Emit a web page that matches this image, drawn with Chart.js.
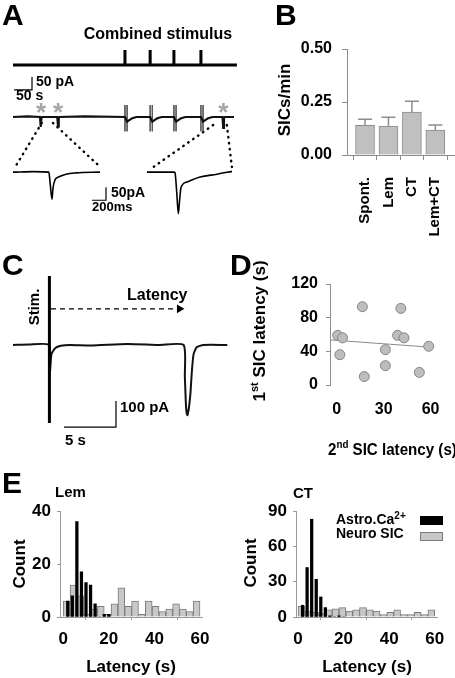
<!DOCTYPE html>
<html>
<head>
<meta charset="utf-8">
<script src="https://cdn.jsdelivr.net/npm/chart.js@4.4.1/dist/chart.umd.min.js"></script>
<style>
    html, body { margin: 0; padding: 0; background: #fff; }
    #fig { position: relative; width: 455px; height: 678px; overflow: hidden; }
    #fig canvas { position: absolute; left: 0; top: 0; }
</style>
</head>
<body>
<div id="fig">
    <canvas id="chartA" width="455" height="678"></canvas>
    <canvas id="chartB" width="455" height="678"></canvas>
    <canvas id="chartC" width="455" height="678"></canvas>
    <canvas id="chartD" width="455" height="678"></canvas>
    <canvas id="chartLem" width="455" height="678"></canvas>
    <canvas id="chartCT" width="455" height="678"></canvas>
</div>
<script>
// ---- Panel A: stimulus train + recording (time in s, current in pA) ----
const stimTimes = [311, 381, 447, 522];
const sicTimes = [78, 125, 584];
const stimTrain = [[0, 0], [311, 0], [311, 1], [311, 0], [381, 0], [381, 1], [381, 0],
    [447, 0], [447, 1], [447, 0], [522, 0], [522, 1], [522, 0], [622, 0]];
const traceA = [[0, 0], [40, 2], [75, 0], [77, -38], [79, -5], [81, 0], [123, 0], [125, -36], [127, -5], [129, 0],
    [200, 2], [311, 0], [317, -18], [323, -12], [331, -5], [343, 0], [381, 0],
    [387, -18], [393, -12], [401, -5], [413, 0], [447, 0],
    [453, -18], [459, -12], [467, -5], [479, 0], [522, 0],
    [528, -18], [534, -12], [542, -5], [554, 0],
    [582, 0], [584, -42], [586, -5], [588, 0], [614, 0]];
// stimulation artifacts: pairs of thin vertical deflections (null = pen up)
const artifactsA = [[311, 46], [311, -55], [313, null], [317, 46], [317, -55], [319, null],
    [381, 46], [381, -55], [383, null], [387, 46], [387, -55], [389, null],
    [447, 46], [447, -55], [449, null], [453, 46], [453, -55], [455, null],
    [522, 46], [522, -55], [524, null], [528, 46], [528, -55]];
// expanded SICs (ms, pA)
const insetLeft = [[0, 0], [300, 2], [512, 0], [530, -40], [557, -104], [572, -60], [600, -30],
    [657, -18], [757, -8], [900, -3], [1243, 0]];
const insetRight = [[1914, 0], [2300, 0], [2315, -3], [2340, -80], [2362, -159], [2380, -110],
    [2400, -60], [2486, -38], [2672, -19], [2915, -8], [3129, 3]];
// dotted zoom guides, in the main trace units
const zoomLinesA = [
    [[80, -23], [6, -192]],
    [[111, -23], [242, -192]],
    [[556, -31], [386, -196]],
    [[594, -31], [608, -192]]
];
const scaleBarA = [[2.8, 104], [52.8, 104], [52.8, 154]];        // 50 s, 50 pA
const scaleBarInset = [[1129, -108], [1329, -108], [1329, -58]];  // 200 ms, 50 pA

// ---- Panel B ----
const categoriesB = ['Spont.', 'Lem', 'CT', 'Lem+CT'];
const sicRate = [0.140, 0.136, 0.202, 0.117];
const sicSem = [0.029, 0.042, 0.052, 0.025];

// ---- Panel C (s, pA) ----
const stimArtifactC = [[3.5, 265], [3.5, -300]];
const traceC = [[0, 0], [1.5, 2], [3.45, 0], [3.56, -100], [3.7, -35], [4.05, -12], [4.6, -3], [5.5, 0],
    [7.5, -2], [11, 4], [14, 0], [16.4, 0], [16.52, -120], [16.64, -240], [16.76, -270], [16.9, -245],
    [17.05, -190], [17.2, -100], [17.36, -35], [17.66, -9], [18.3, 0], [20.6, 0]];
const latencyArrow = [[3.65, 139], [16.0, 139]];
const scaleBarC = [[4.9, -315.7], [9.9, -315.7], [9.9, -215.7]]; // 5 s, 100 pA

// ---- Panel D ----
const secondLatency = [16.4, 0.6, 3.7, 2.0, 41.0, 38.9, 43.0, 31.1, 31.1, 17.6, 58.8, 52.8];
const firstLatency = [93, 59, 56, 36, 91, 59, 56, 42, 23, 10, 46, 15];
const fitLineD = [[-4.3, 53.6], [60, 44.9]];

// ---- Panel E ----
const neuroBins = [1.5, 4.5, 7.5, 10.5, 13.5, 16.5, 19.5, 22.5, 25.5, 28.5,
    31.5, 34.5, 37.5, 40.5, 43.5, 46.5, 49.5, 52.5, 55.5, 58.5];
const astroBins = [2, 4, 6, 8, 10, 12, 14, 16, 18, 20];
const lemNeuro = [6, 12, 8, 1, 3, 4, 1, 5, 11, 4, 6, 1, 6, 4, 2, 3, 5, 3, 2, 6];
const lemAstro = [6, 8, 36, 17, 13, 12, 5, 0, 1, 1];
const ctNeuro = [9, 5, 4, 3, 6, 7, 8, 5, 6, 8, 6, 5, 2, 4, 6, 2, 2, 4, 2, 6];
const ctAstro = [10, 42, 83, 32, 17, 8, 1, 0, 1, 0];

const FONT = '"Liberation Sans", Arial, Helvetica, sans-serif';
Chart.defaults.font.family = FONT;
Chart.defaults.font.weight = 'bold';
Chart.defaults.color = '#000';
Chart.defaults.animation = false;
Chart.defaults.plugins.legend.display = false;
Chart.defaults.plugins.tooltip.enabled = false;

function drawRich(ctx, item) {
    const parts = item.parts || [[item.text, item.size || 16, 0]];
    ctx.save();
    ctx.translate(item.x, item.y);
    if (item.rotate) ctx.rotate(item.rotate * Math.PI / 180);
    if (item.sx) ctx.scale(item.sx, 1);
    ctx.fillStyle = item.color || '#000';
    ctx.textBaseline = item.baseline || 'alphabetic';
    ctx.textAlign = 'left';
    const widths = parts.map(p => {
        ctx.font = 'bold ' + p[1] + 'px ' + FONT;
        return ctx.measureText(p[0]).width;
    });
    const total = widths.reduce((a, b) => a + b, 0);
    let x = item.align === 'center' ? -total / 2 : (item.align === 'right' ? -total : 0);
    parts.forEach((p, i) => {
        ctx.font = 'bold ' + p[1] + 'px ' + FONT;
        ctx.fillText(p[0], x, p[2]);
        x += widths[i];
    });
    ctx.restore();
}

// free text (panel letters, axis titles, scale bar labels)
Chart.register({
    id: 'texts',
    afterDraw(chart, args, opts) {
        (opts.items || []).forEach(it => drawRich(chart.ctx, it));
    }
});

const pts = arr => arr.map(p => ({ x: p[0], y: p[1] }));
function lineSet(arr, xId, yId, extra) {
    return Object.assign({
        data: pts(arr), xAxisID: xId, yAxisID: yId, showLine: true, pointRadius: 0,
        borderColor: '#000', borderWidth: 1.5, fill: false, clip: false, spanGaps: false
    }, extra || {});
}
const hidden = (axis, min, max) => ({ type: 'linear', axis: axis, display: false, min: min, max: max });

// ---------------- A ----------------
const asterisks = {
    id: 'asterisks',
    afterDatasetsDraw(chart) {
        const ctx = chart.ctx;
        ctx.save();
        ctx.fillStyle = '#a6a6a6';
        ctx.font = 'bold 26px ' + FONT;
        ctx.textAlign = 'center';
        ctx.textBaseline = 'alphabetic';
        sicTimes.forEach(t => ctx.fillText('*', chart.scales.t.getPixelForValue(t), 121));
        ctx.restore();
    }
};

new Chart(document.getElementById('chartA'), {
    type: 'scatter',
    data: {
        datasets: [
            lineSet(stimTrain, 't', 'stim', { borderWidth: 3, borderJoinStyle: 'bevel' }),
            lineSet(traceA, 't', 'pA', { borderWidth: 2.2, borderColor: '#111' }),
            lineSet(artifactsA, 't', 'pA', { borderWidth: 0.9, borderColor: '#555' }),
            lineSet(insetLeft, 'ms', 'ins', { borderWidth: 1.6, cubicInterpolationMode: 'monotone' }),
            lineSet(insetRight, 'ms', 'ins', { borderWidth: 1.6, cubicInterpolationMode: 'monotone' }),
            ...zoomLinesA.map(l => lineSet(l, 't', 'pA', { borderWidth: 2.4, borderDash: [0.5, 5.5], borderCapStyle: 'round' })),
            lineSet(scaleBarA, 't', 'pA', { borderWidth: 1.2 }),
            lineSet(scaleBarInset, 'ms', 'ins', { borderWidth: 1.2 })
        ]
    },
    options: {
        responsive: false,
        devicePixelRatio: 1,
        layout: { padding: { left: 13, right: 217, top: 40, bottom: 458 }, autoPadding: false },
        scales: {
            t: hidden('x', 0, 625),
            ms: hidden('x', 0, 3215),
            pA: hidden('y', -396, 296),
            ins: hidden('y', -184, 508),
            stim: hidden('y', -10.333, 1.667)
        },
        plugins: {
            texts: {
                items: [
                    { text: 'A', x: 2, y: 25, size: 30 },
                    { text: 'Combined stimulus', x: 158, y: 39, size: 16, align: 'center' },
                    { text: '50 pA', x: 36, y: 86, size: 14 },
                    { text: '50 s', x: 16, y: 100, size: 14 },
                    { text: '50pA', x: 111, y: 197, size: 14 },
                    { text: '200ms', x: 92, y: 211, size: 13 }
                ]
            }
        }
    },
    plugins: [asterisks]
});

// ---------------- B ----------------
const errorBars = {
    id: 'errorBars',
    afterDatasetsDraw(chart) {
        const { ctx, scales: { x, y } } = chart;
        ctx.save();
        ctx.strokeStyle = '#8c8c8c';
        ctx.lineWidth = 1.5;
        sicRate.forEach((v, i) => {
            const px = x.getPixelForValue(i);
            const base = y.getPixelForValue(v);
            const top = y.getPixelForValue(v + sicSem[i]);
            ctx.beginPath();
            ctx.moveTo(px, base);
            ctx.lineTo(px, top);
            ctx.moveTo(px - 7, top);
            ctx.lineTo(px + 7, top);
            ctx.stroke();
        });
        ctx.restore();
        // rotated category labels, reading bottom-to-top, ending near the axis
        categoriesB.forEach((c, i) => drawRich(ctx, {
            text: c, size: 15, rotate: -90, align: 'right', baseline: 'middle',
            x: x.getPixelForValue(i), y: y.bottom + 22
        }));
    }
};

new Chart(document.getElementById('chartB'), {
    type: 'bar',
    data: {
        datasets: [{
            data: sicRate.map((v, i) => ({ x: i, y: v })),
            backgroundColor: '#c0c0c0',
            borderColor: '#8c8c8c',
            borderWidth: 1,
            barThickness: 19
        }]
    },
    options: {
        responsive: false,
        devicePixelRatio: 1,
        layout: { padding: { left: 250, right: 1, top: 49, bottom: 423 }, autoPadding: false },
        scales: {
            x: {
                type: 'linear', min: -0.768, max: 3.795, offset: false,
                border: { display: true, color: '#8c8c8c' },
                grid: { drawOnChartArea: false, tickLength: 5, color: '#8c8c8c' },
                ticks: { stepSize: 1, includeBounds: false, autoSkip: false, display: false },
                afterFit: s => { s.height = 100; }
            },
            y: {
                min: 0, max: 0.5,
                border: { display: true, color: '#8c8c8c' },
                grid: { drawOnChartArea: false, tickLength: 5, color: '#8c8c8c' },
                ticks: { stepSize: 0.25, padding: 10, font: { size: 16 }, callback: v => v.toFixed(2) },
                afterFit: s => { s.width = 97; }
            }
        },
        plugins: {
            texts: {
                items: [
                    { text: 'B', x: 275, y: 25, size: 30 },
                    { text: 'SICs/min', x: 290, y: 100, size: 17, rotate: -90, align: 'center' }
                ]
            }
        }
    },
    plugins: [errorBars]
});

// ---------------- C ----------------
new Chart(document.getElementById('chartC'), {
    type: 'scatter',
    data: {
        datasets: [
            lineSet(stimArtifactC, 's', 'pA', { borderWidth: 3 }),
            lineSet(traceC, 's', 'pA', { borderWidth: 2, borderColor: '#111', tension: 0.2 }),
            lineSet(latencyArrow, 's', 'pA', {
                borderWidth: 1.3, borderDash: [5, 4],
                pointRadius: [0, 5], pointStyle: 'triangle', rotation: 90,
                pointBackgroundColor: '#000', pointBorderColor: '#000', pointBorderWidth: 0
            }),
            lineSet(scaleBarC, 's', 'pA', { borderWidth: 1.2 })
        ]
    },
    options: {
        responsive: false,
        devicePixelRatio: 1,
        layout: { padding: { left: 13, right: 222, top: 270, bottom: 228 }, autoPadding: false },
        scales: {
            s: hidden('x', 0, 21.15),
            pA: hidden('y', -403.8, 288.5)
        },
        plugins: {
            texts: {
                items: [
                    { text: 'C', x: 2, y: 275, size: 30 },
                    { text: 'Stim.', x: 39, y: 307, size: 15, rotate: -90, align: 'center' },
                    { text: 'Latency', x: 127, y: 300, size: 16 },
                    { text: '100 pA', x: 120, y: 412, size: 15 },
                    { text: '5 s', x: 65, y: 445, size: 15 }
                ]
            }
        }
    }
});

// ---------------- D ----------------
new Chart(document.getElementById('chartD'), {
    type: 'scatter',
    data: {
        datasets: [
            {
                data: secondLatency.map((x, i) => ({ x: x, y: firstLatency[i] })),
                pointRadius: 5, backgroundColor: '#bdbdbd', borderColor: '#858585', borderWidth: 1, clip: false
            },
            lineSet(fitLineD, 'x', 'y', { borderColor: '#8a8a8a', borderWidth: 1 })
        ]
    },
    options: {
        responsive: false,
        devicePixelRatio: 1,
        layout: { padding: { left: 250, right: 16.7, top: 284, bottom: 263 }, autoPadding: false },
        scales: {
            x: {
                type: 'linear', min: -4.3, max: 62,
                border: { display: false },
                grid: { display: false, drawTicks: false },
                ticks: { stepSize: 30, includeBounds: false, padding: 15, font: { size: 16 } },
                afterFit: s => { s.height = 30; }
            },
            y: {
                min: 0, max: 120,
                border: { display: true, color: '#8c8c8c' },
                grid: { drawOnChartArea: false, tickLength: 4, color: '#8c8c8c' },
                ticks: { stepSize: 40, padding: 8, font: { size: 16 } },
                afterFit: s => { s.width = 80; }
            }
        },
        plugins: {
            texts: {
                items: [
                    { text: 'D', x: 230, y: 275, size: 30 },
                    { parts: [['1', 17, 0], ['st', 11, -7], [' SIC latency (s)', 17, 0]], x: 265, y: 331, rotate: -90, align: 'center' },
                    { parts: [['2', 17, 0], ['nd', 11, -7], [' SIC latency (s)', 17, 0]], x: 328, y: 455, sx: 0.89 }
                ]
            }
        }
    }
});

// ---------------- E ----------------
const histLegend = {
    id: 'histLegend',
    afterDraw(chart) {
        const ctx = chart.ctx;
        const ds = chart.data.datasets;
        ctx.save();
        drawRich(ctx, { parts: [['Astro.Ca', 14, 0], ['2+', 10, -5]], x: 336, y: 524 });
        drawRich(ctx, { text: 'Neuro SIC', size: 14, x: 336, y: 538 });
        ctx.fillStyle = ds[0].backgroundColor;
        ctx.fillRect(420, 516, 23, 9);
        ctx.fillStyle = ds[1].backgroundColor;
        ctx.strokeStyle = ds[1].borderColor;
        ctx.lineWidth = 1;
        ctx.fillRect(420.5, 532.5, 22, 8);
        ctx.strokeRect(420.5, 532.5, 22, 8);
        ctx.restore();
    }
};

function histogram(id, astro, neuro, yMax, yStep, xMin, padding, yWidth, texts, extraPlugins) {
    return new Chart(document.getElementById(id), {
        type: 'bar',
        data: {
            datasets: [
                {
                    label: 'Astro.Ca2+',
                    data: astroBins.map((b, i) => ({ x: b, y: astro[i] })),
                    backgroundColor: '#000', borderWidth: 0, barThickness: 2.6, grouped: false
                },
                {
                    label: 'Neuro SIC',
                    data: neuroBins.map((b, i) => ({ x: b, y: neuro[i] })),
                    backgroundColor: '#c8c8c8', borderColor: '#7a7a7a', borderWidth: 1,
                    barThickness: 6.84, grouped: false
                }
            ]
        },
        options: {
            responsive: false,
            devicePixelRatio: 1,
            layout: { padding: padding, autoPadding: false },
            scales: {
                x: {
                    type: 'linear', min: xMin, max: 61, offset: false,
                    border: { display: true, color: '#9a9a9a' },
                    grid: { drawOnChartArea: false, tickLength: 3, color: '#9a9a9a' },
                    ticks: { stepSize: 20, includeBounds: false, padding: 9, font: { size: 17 } },
                    afterFit: s => { s.height = 30; }
                },
                y: {
                    min: 0, max: yMax,
                    border: { display: true, color: '#9a9a9a' },
                    grid: { drawOnChartArea: false, tickLength: 3, color: '#9a9a9a' },
                    ticks: { stepSize: yStep, padding: 6, font: { size: 17 } },
                    afterFit: s => { s.width = yWidth; }
                }
            },
            plugins: { texts: { items: texts } }
        },
        plugins: extraPlugins || []
    });
}

histogram('chartLem', lemAstro, lemNeuro, 40, 20, -1.4,
    { left: 0, right: 252.7, top: 511, bottom: 31 }, 60,
    [
        { text: 'E', x: 2, y: 493, size: 30 },
        { text: 'Lem', x: 55, y: 497, size: 15 },
        { text: 'Count', x: 25, y: 564, size: 17, rotate: -90, align: 'center' },
        { text: 'Latency (s)', x: 131, y: 672, size: 17, align: 'center' }
    ]);

histogram('chartCT', ctAstro, ctNeuro, 90, 30, -0.88,
    { left: 230, right: 18, top: 511, bottom: 31 }, 66,
    [
        { text: 'CT', x: 293, y: 498, size: 15 },
        { text: 'Count', x: 256, y: 563, size: 17, rotate: -90, align: 'center' },
        { text: 'Latency (s)', x: 367, y: 672, size: 17, align: 'center' }
    ],
    [histLegend]);
</script>
</body>
</html>
